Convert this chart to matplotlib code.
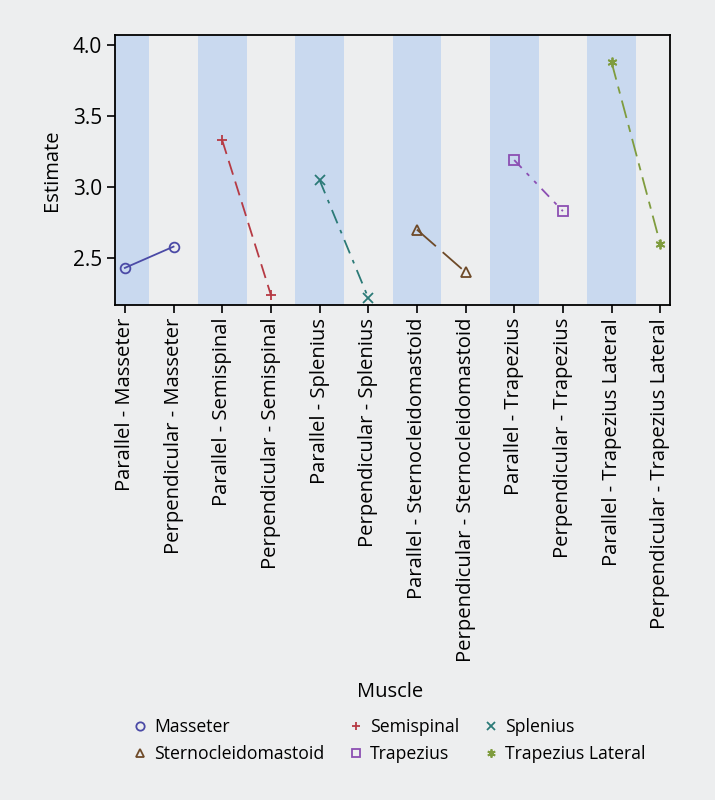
import matplotlib.pyplot as plt
from matplotlib.lines import Line2D

plt.rcParams['font.family'] = ['Open Sans', 'DejaVu Sans']

muscles = ['Masseter', 'Semispinal', 'Splenius', 'Sternocleidomastoid',
           'Trapezius', 'Trapezius Lateral']
parallel = [2.43, 3.33, 3.05, 2.70, 3.19, 3.88]
perpendicular = [2.58, 2.24, 2.22, 2.40, 2.83, 2.60]

colors = ['#4b4aa6', '#b63a44', '#2b7a77', '#6e4a28', '#8c4fb3', '#7f9c3e']
markers = ['o', '+', 'x', '^', 's', (6, 2, 0)]
styles = ['-', (0, (8, 4)), (0, (8, 4, 2, 4)), (0, (14, 5)),
          (0, (6, 4, 2, 4, 2, 4)), (0, (10, 4, 4, 4))]

labels = []
for m in muscles:
    labels.append('Parallel - ' + m)
    labels.append('Perpendicular - ' + m)

bg = '#edeeef'
fig = plt.figure(figsize=(7.15, 8), dpi=100, facecolor=bg)
ax = fig.add_axes([0.161, 0.619, 0.776, 0.337])
ax.set_facecolor(bg)

# blue bands behind parallel categories
for i in range(len(muscles)):
    ax.axvspan(2 * i - 0.5, 2 * i + 0.5, color='#c9d9ef', lw=0, zorder=0)

for i, m in enumerate(muscles):
    xs = [2 * i, 2 * i + 1]
    ys = [parallel[i], perpendicular[i]]
    ax.plot(xs, ys, color=colors[i], linestyle=styles[i], lw=1.3, zorder=2)
    ax.plot(xs, ys, color=colors[i], linestyle='none', marker=markers[i],
            markersize=7, markerfacecolor='none', markeredgewidth=1.3, zorder=3)

ax.set_xlim(-0.2, 11.2)
ax.set_ylim(2.17, 4.07)
ax.set_yticks([2.5, 3.0, 3.5, 4.0])
ax.set_yticklabels(['2.5', '3.0', '3.5', '4.0'])
ax.set_xticks(range(len(labels)))
ax.set_xticklabels(labels, rotation=90, fontsize=14.6)
ax.tick_params(axis='y', labelsize=15, length=6, width=1.2)
ax.tick_params(axis='x', length=6, width=1.2)
ax.set_ylabel('Estimate', fontsize=14.5, labelpad=8)
for s in ax.spines.values():
    s.set_linewidth(1.3)

handles = []
for i, m in enumerate(muscles):
    handles.append(Line2D([], [], color=colors[i], linestyle='none',
                          marker=markers[i], markersize=6,
                          markerfacecolor='none', markeredgewidth=1.3, label=m))
order = [0, 3, 1, 4, 2, 5]
fig.text(0.545, 0.135, 'Muscle', ha='center', va='center', fontsize=14.5)
leg = fig.legend([handles[k] for k in order], [muscles[k] for k in order],
                 loc='center', bbox_to_anchor=(0.542, 0.074), ncol=3,
                 fontsize=12.7, frameon=False,
                 handletextpad=0.2, handlelength=1.2, columnspacing=1.2,
                 labelspacing=0.5)

fig.savefig('out.png', dpi=100, facecolor=bg)
